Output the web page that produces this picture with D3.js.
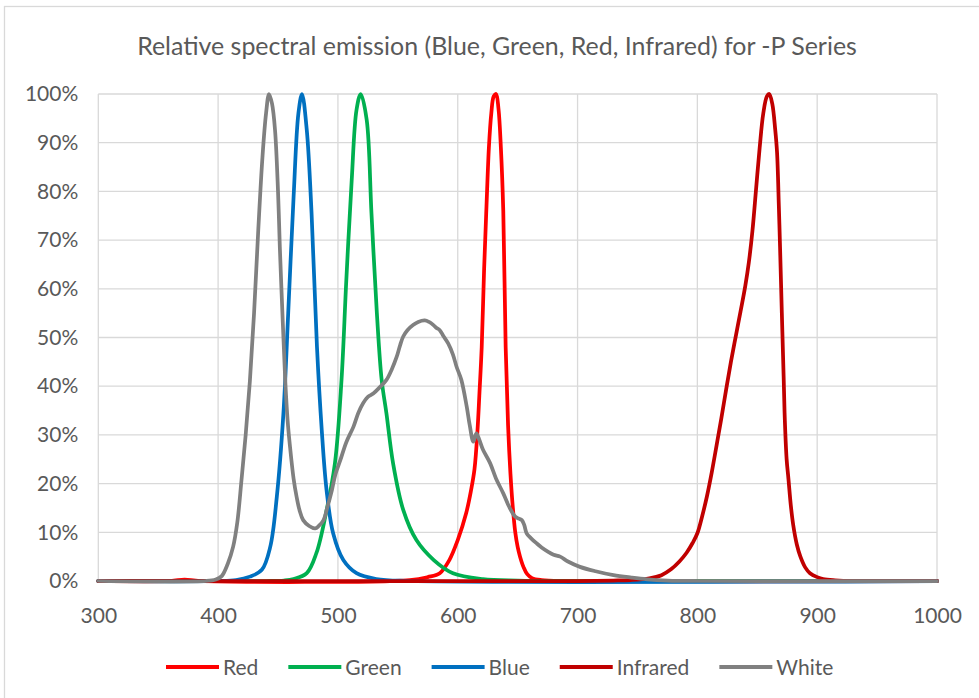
<!DOCTYPE html>
<html>
<head>
<meta charset="utf-8">
<script src="https://cdn.jsdelivr.net/npm/d3@7"></script>
<style>
  html, body { margin: 0; padding: 0; background: #fff; }
  svg { display: block; }
  text { font-family: Lato, "Open Sans", sans-serif; fill: #595959; }
</style>
</head>
<body>
<svg id="chart" width="979" height="698"></svg>
<script>
// ---------------- DATA ----------------
const chartTitle = "Relative spectral emission (Blue, Green, Red, Infrared) for -P Series";
const xTicks = [300, 400, 500, 600, 700, 800, 900, 1000];
const yTicks = [0, 0.1, 0.2, 0.3, 0.4, 0.5, 0.6, 0.7, 0.8, 0.9, 1.0];
const seriesNames = ["Red", "Green", "Blue", "Infrared", "White"];
const seriesColors = ["#FF0000", "#00B050", "#0070C0", "#C00000", "#808080"];

// wavelengths (nm) and relative emission (%) per series
const redNm  = [300, 360, 372, 385, 560, 575, 585, 593, 600, 607, 611, 614, 616.5, 618, 620, 622, 624, 626, 628, 630, 632, 634, 636, 638, 640, 642, 644, 646, 648, 650, 652, 655, 658, 662, 670, 690, 1000];
const redPct = [0, 0, 0.3, 0, 0.2, 0.8, 1.6, 4.3, 8.4, 13.9, 18.5, 23, 31, 38, 48, 64, 77, 89, 96, 99.5, 100, 97, 89, 76, 48, 32, 22, 15, 10, 7, 5, 2.8, 1.4, 0.6, 0.2, 0, 0];

const greenNm  = [300, 440, 455, 463, 474, 482, 490, 497.5, 503, 507, 511.5, 515.5, 519, 524, 528, 532.5, 536.5, 540.5, 546, 554.5, 565.5, 580, 596, 621, 650, 700, 1000];
const greenPct = [0, 0, 0.1, 0.4, 1.6, 5.7, 13.9, 24.2, 41.3, 61.8, 82.3, 96.7, 100, 94.7, 75.5, 55, 41.3, 34.4, 24.2, 14.6, 8.4, 4.3, 1.6, 0.4, 0.1, 0, 0];

const blueNm  = [300, 400, 415, 426.5, 436.5, 443.5, 449, 454.5, 458.5, 463, 467, 470, 474, 478, 482.5, 486.5, 490.5, 496, 504.5, 515.5, 532, 560, 1000];
const bluePct = [0, 0, 0.2, 0.9, 2.3, 7, 17.3, 34.4, 55, 78.9, 96, 100, 92.6, 75.5, 48.1, 31, 18.7, 9.8, 4.3, 1.6, 0.4, 0, 0];

const infraredNm  = [300, 700, 730, 744, 760, 770, 778, 785, 791, 796, 800, 804, 808, 812, 816, 820, 824, 828, 832, 836, 840, 843, 846, 849, 852, 855, 858, 860, 862.5, 865, 866.5, 868, 869, 870.5, 872, 873, 874.5, 876, 878, 880, 883, 886, 890, 894, 900, 905, 915, 930, 1000];
const infraredPct = [0, 0, 0.1, 0.2, 0.55, 1.2, 2.4, 4, 5.8, 7.8, 9.8, 13.3, 17.4, 22.3, 27.8, 33.4, 39.3, 45, 50.2, 55.3, 60.6, 65.5, 72, 80.5, 89, 96, 99.5, 100, 98, 92.6, 88, 77, 68.6, 55, 42, 33, 25, 21, 15.5, 11.5, 7.5, 5, 2.8, 1.6, 0.8, 0.4, 0.15, 0, 0];

const whiteNm  = [300, 390, 398, 403, 408, 412.5, 416, 419.5, 423, 426.5, 430, 433.5, 437, 440, 442.5, 445, 447.5, 450, 451.5, 454, 456, 458, 460, 463, 465.5, 468, 471, 476, 481, 484, 488, 491, 495, 498, 502, 507, 513, 517, 521, 525, 529.5, 535, 540.5, 545, 549, 552, 554.5, 558, 563, 567, 572.5, 576, 579.5, 582, 585, 588, 592, 596, 599, 603, 607.5, 610, 613, 615.5, 618, 621, 627, 632, 638, 643, 648, 651, 653.5, 655.5, 657.5, 661, 666, 670, 675.5, 680, 685.5, 692, 702, 715, 730, 745, 758, 775, 800, 1000];
const whitePct = [0, 0, 0.3, 1, 3.5, 7, 12, 20.7, 30, 41, 55, 72, 87, 96, 100, 98, 92.6, 80, 68.6, 53, 41.3, 33, 27.6, 21, 17.3, 14.5, 12.5, 11.3, 10.8, 11.3, 12.5, 15, 18.7, 22, 24.8, 28.5, 31.7, 34.5, 36.5, 37.8, 38.5, 39.8, 41.3, 43.5, 46, 48.5, 50.2, 51.5, 52.6, 53.2, 53.5, 53.2, 52.6, 52, 51.5, 50.3, 48.8, 46.5, 44, 41.3, 35.8, 32, 28.6, 30.3, 29, 27, 24.2, 21, 18, 15.2, 13.2, 12.8, 12.5, 11.5, 9.8, 8.8, 7.7, 6.9, 6, 5.4, 5, 4, 2.9, 2, 1.2, 0.7, 0.35, 0.1, 0, 0];

// ---------------- BUILD ----------------
const nmArrays  = [redNm, greenNm, blueNm, infraredNm, whiteNm];
const pctArrays = [redPct, greenPct, bluePct, infraredPct, whitePct];
const series = seriesNames.map((name, i) => ({
  name, color: seriesColors[i],
  points: nmArrays[i].map((nm, j) => ({ nm, v: pctArrays[i][j] / 100 }))
}));

const svg = d3.select("#chart");
const plot = { left: 98.3, right: 937, top: 94, bottom: 581 };
const gridColor = "#D9D9D9";

// chart-area border
svg.append("rect")
  .attr("x", 4.5).attr("y", 6.5)
  .attr("width", 990).attr("height", 720)
  .attr("fill", "none").attr("stroke", gridColor).attr("stroke-width", 1.3);

const x = d3.scaleLinear().domain([300, 1000]).range([plot.left, plot.right]);
const y = d3.scaleLinear().domain([0, 1]).range([plot.bottom, plot.top]);

// gridlines
svg.append("g").selectAll("line.h").data(yTicks).join("line")
  .attr("x1", plot.left).attr("x2", plot.right)
  .attr("y1", d => y(d)).attr("y2", d => y(d))
  .attr("stroke", gridColor).attr("stroke-width", 1.3);
svg.append("g").selectAll("line.v").data(xTicks).join("line")
  .attr("y1", plot.top).attr("y2", plot.bottom)
  .attr("x1", d => x(d)).attr("x2", d => x(d))
  .attr("stroke", gridColor).attr("stroke-width", 1.3);

// axes
const yAxis = d3.axisLeft(y).tickValues(yTicks).tickFormat(d3.format(".0%")).tickSize(0).tickPadding(20);
const gy = svg.append("g").attr("transform", `translate(${plot.left},0)`).call(yAxis);
gy.select(".domain").remove();
gy.selectAll("text").style("font-family", "Lato, sans-serif").style("font-size", "21px").attr("fill", "#595959");

const xAxis = d3.axisBottom(x).tickValues(xTicks).tickFormat(d3.format("d")).tickSize(0).tickPadding(27);
const gx = svg.append("g").attr("transform", `translate(0,${plot.bottom})`).call(xAxis);
gx.select(".domain").remove();
gx.selectAll("text").style("font-family", "Lato, sans-serif").style("font-size", "21px").attr("fill", "#595959");

// series lines
const line = d3.line().x(d => x(d.nm)).y(d => y(Math.max(0, d.v))).curve(d3.curveCatmullRom.alpha(0.5));
svg.append("g").selectAll("path").data(series).join("path")
  .attr("d", d => line(d.points))
  .attr("fill", "none")
  .attr("stroke", d => d.color)
  .attr("stroke-width", 3.75)
  .attr("stroke-linejoin", "round")
  .attr("stroke-linecap", "round");

// title
const title = svg.append("text")
  .attr("x", 497).attr("y", 55)
  .attr("text-anchor", "middle")
  .style("font-size", "23px")
  .text(chartTitle);
const tw = title.node().getComputedTextLength();
title.style("font-size", (23 * 720 / tw).toFixed(2) + "px");

// legend
const legend = svg.append("g");
let lx = 166;
const ly = 667;
series.forEach(s => {
  legend.append("line")
    .attr("x1", lx).attr("x2", lx + 53)
    .attr("y1", ly).attr("y2", ly)
    .attr("stroke", s.color).attr("stroke-width", 4);
  const t = legend.append("text")
    .attr("x", lx + 57).attr("y", 675)
    .style("font-size", "21px")
    .text(s.name);
  lx += 57 + t.node().getComputedTextLength() + 30;
});
</script>
</body>
</html>
